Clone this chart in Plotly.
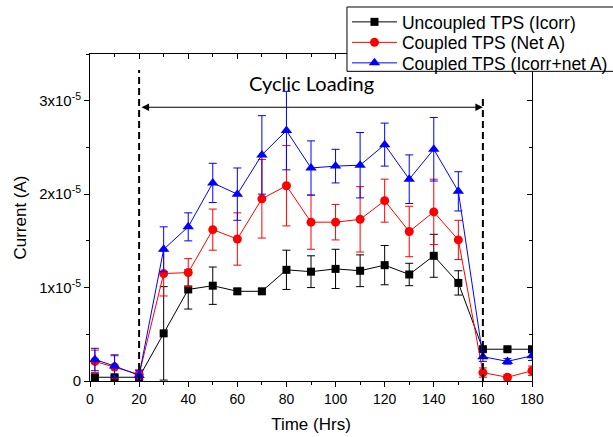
import plotly.graph_objects as go

# ---- data (currents in units of 1e-5 A) ----
time_hrs = [2, 10, 20, 30, 40, 50, 60, 70, 80, 90, 100, 110, 120, 130, 140, 150, 160, 170, 180]
uncoupled = [0.04, 0.04, 0.04, 0.51, 0.98, 1.02, 0.96, 0.96, 1.19, 1.17, 1.20, 1.18, 1.24, 1.14, 1.34, 1.05, 0.34, 0.34, 0.34]
uncoupled_err = [0.02, 0.02, 0.02, 0.50, 0.21, 0.20, 0.03, 0.03, 0.21, 0.17, 0.21, 0.17, 0.21, 0.12, 0.23, 0.13, 0.02, 0.02, 0.02]
net_a = [0.21, 0.15, 0.07, 1.15, 1.16, 1.62, 1.52, 1.95, 2.09, 1.70, 1.70, 1.73, 1.93, 1.60, 1.81, 1.51, 0.09, 0.04, 0.11]
net_a_err = [0.12, 0.12, 0.05, 0.24, 0.15, 0.22, 0.28, 0.42, 0.43, 0.29, 0.19, 0.35, 0.23, 0.27, 0.35, 0.21, 0.05, 0.03, 0.05]
icorr_net = [0.23, 0.16, 0.06, 1.41, 1.65, 2.12, 2.00, 2.42, 2.68, 2.28, 2.30, 2.31, 2.53, 2.16, 2.48, 2.03, 0.26, 0.21, 0.27]
icorr_net_err = [0.12, 0.12, 0.05, 0.24, 0.15, 0.21, 0.28, 0.42, 0.42, 0.29, 0.18, 0.35, 0.23, 0.26, 0.34, 0.21, 0.05, 0.03, 0.05]
scale = 1e-5

series_names = ["Uncoupled TPS (Icorr)", "Coupled TPS (Net A)", "Coupled TPS (Icorr+net A)"]
x_ticks = [0, 20, 40, 60, 80, 100, 120, 140, 160, 180]
y_tick_vals = [0, 1e-5, 2e-5, 3e-5]
y_tick_text = ["0", "1x10<sup>-5</sup>", "2x10<sup>-5</sup>", "3x10<sup>-5</sup>"]
loading_start, loading_end = 20, 160
loading_label = "Cyclic Loading"

FONT = "Liberation Sans"

def s(v):
    return [a * scale for a in v]

fig = go.Figure()
specs = [
    (uncoupled, uncoupled_err, "#000000", "square", 8, "legend"),
    (net_a, net_a_err, "#FF0000", "circle", 9, "legend2"),
    (icorr_net, icorr_net_err, "#0000FF", "triangle-up", 10, "legend3"),
]
for name, (vals, errs, col, sym, sz, lg) in zip(series_names, specs):
    fig.add_trace(go.Scatter(
        x=time_hrs, y=s(vals), name=name, mode="lines+markers", legend=lg,
        line=dict(color=col, width=1),
        marker=dict(color=col, symbol=sym, size=sz),
        error_y=dict(type="data", array=s(errs), visible=True, color=col, thickness=1, width=4),
    ))

# invisible trace for mirrored top/right axes with inward ticks
fig.add_trace(go.Scatter(x=[None], y=[None], xaxis="x2", yaxis="y2", showlegend=False, hoverinfo="skip"))

# dashed phase boundaries
fig.add_shape(type="line", xref="x", yref="y", x0=loading_start, x1=loading_start, y0=0, y1=3.33e-5,
              line=dict(color="black", width=2, dash="7px,4px"))
fig.add_shape(type="line", xref="x", yref="y", x0=loading_end, x1=loading_end, y0=0, y1=3.06e-5,
              line=dict(color="black", width=2, dash="7px,4px"))
# legend frame (white box with black border, extends past the right edge)
fig.add_shape(type="rect", xref="paper", yref="paper", x0=0.5814, x1=1.25, y0=0.947, y1=1.1437,
              line=dict(color="black", width=1), fillcolor="white", layer="above")
# double arrow
fig.add_annotation(x=loading_end, y=2.93e-5, ax=loading_start + 0.4, ay=2.93e-5, xref="x", yref="y",
                   axref="x", ayref="y", text="", showarrow=True, arrowhead=2, arrowside="end+start",
                   arrowsize=1.5, arrowwidth=1, arrowcolor="black", standoff=0, startstandoff=0)
fig.add_annotation(x=90, y=3.19e-5, xref="x", yref="y", text=loading_label, showarrow=False,
                   font=dict(family="Lato", size=20, color="black"))

axis_common = dict(showgrid=False, zeroline=False, showline=True, linecolor="black", linewidth=1,
                   tickcolor="black", tickfont=dict(family=FONT, size=14, color="black"))

legend_common = dict(x=0.5814, xanchor="left", yanchor="middle", bgcolor="rgba(0,0,0,0)",
                     borderwidth=0, font=dict(family=FONT, size=17.5, color="black"), itemwidth=45)

fig.update_layout(
    width=613, height=437,
    margin=dict(l=90, r=81, t=54, b=56, autoexpand=False),
    paper_bgcolor="white", plot_bgcolor="white",
    font=dict(family=FONT, color="black"),
    xaxis=dict(range=[0, 180], tickvals=x_ticks, ticks="outside", ticklen=5,
               minor=dict(dtick=10, tick0=0, ticks="outside", ticklen=3, tickcolor="black"),
               title=dict(text="Time (Hrs)", font=dict(family=FONT, size=17), standoff=12),
               **axis_common),
    yaxis=dict(range=[0, 3.5e-5], tickvals=y_tick_vals, ticktext=y_tick_text, ticks="outside", ticklen=5,
               minor=dict(dtick=0.5e-5, tick0=0, ticks="outside", ticklen=3, tickcolor="black"),
               title=dict(text="Current (A)", font=dict(family=FONT, size=17), standoff=8),
               **{**axis_common, "tickfont": dict(family=FONT, size=15, color="black")}),
    xaxis2=dict(range=[0, 180], overlaying="x", side="top", anchor="y2", tickvals=x_ticks, ticks="inside", ticklen=5,
                showticklabels=False, minor=dict(dtick=10, tick0=0, ticks="inside", ticklen=3, tickcolor="black"),
                **axis_common),
    yaxis2=dict(range=[0, 3.5e-5], overlaying="y", side="right", anchor="x2", tickvals=y_tick_vals, ticks="inside",
                ticklen=5, showticklabels=False,
                minor=dict(dtick=0.5e-5, tick0=0, ticks="inside", ticklen=3, tickcolor="black"),
                **axis_common),
    legend=dict(y=1.0979, **legend_common),
    legend2=dict(y=1.0352, **legend_common),
    legend3=dict(y=0.9725, **legend_common),
    showlegend=True,
)

fig.write_html("out.html", post_script="document.body.style.margin='0';",
               config={"displayModeBar": False})
